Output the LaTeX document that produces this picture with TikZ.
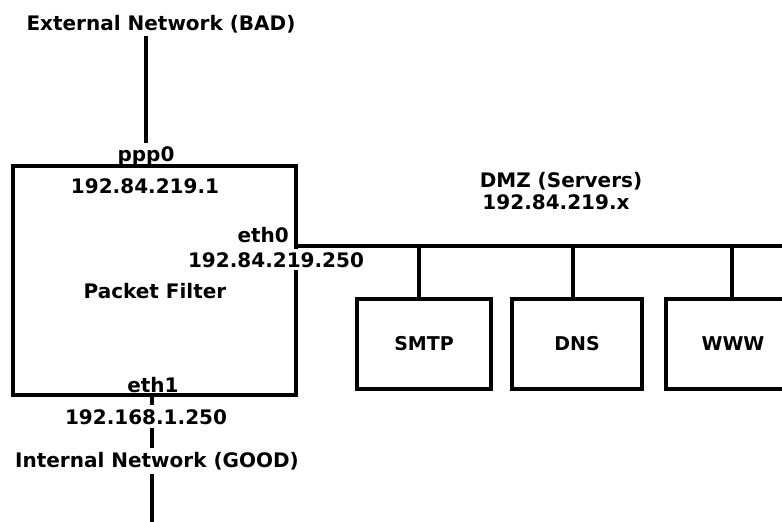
\documentclass[tikz,border=0pt]{standalone}
\usepackage{fontspec}
\setmainfont{DejaVu Sans}
\usetikzlibrary{positioning,calc}
\tikzset{
  netline/.style={draw=black, line width=3.2pt},
  filterbox/.style={
    draw=black, line width=3.2pt, minimum width=283pt, minimum height=229pt,
    inner sep=0pt
  },
  serverbox/.style={
    draw=black, line width=3.2pt, minimum width=134pt, minimum height=90pt,
    inner sep=0pt, font=\bfseries\fontsize{19}{22}\selectfont
  },
  netlabel/.style={font=\bfseries\fontsize{20}{24}\selectfont, inner sep=3pt},
  addrlabel/.style={netlabel, fill=white, inner sep=4pt}
}

\begin{document}
\begin{tikzpicture}[x=1pt, y=-1pt]
\useasboundingbox (0,0) rectangle (782,522);
\clip (0,0) rectangle (782,522);

% packet filter
\node[filterbox] (pf) at (154.5,280.5) {};
\node[netlabel, anchor=base] (ext) at (161,30) {External Network (BAD)};
\node[netlabel, anchor=base] (ppp) at (146,161) {ppp0};
\draw[netline] (ppp.north) -- (ppp.north |- ext.south);
\node[netlabel, anchor=base] (pfaddr) at (145,193) {192.84.219.1};
\node[netlabel, anchor=base] (pfname) at (155,298) {Packet Filter};
\node[netlabel, anchor=base east] (ethzero) at (292,242) {eth0};
\node[netlabel, anchor=base] (ethone) at (153,392) {eth1};

% internal side
\coordinate (netbottom) at (152,530);
\draw[netline] (netbottom |- pf.south) -- (netbottom);
\node[addrlabel, anchor=base] (ethoneaddr) at (146,424) {192.168.1.250};
\node[addrlabel, anchor=base] (internal) at (157,467) {Internal Network (GOOD)};

% dmz bus
\coordinate (busend) at (790,246);
\draw[netline] (busend -| pf.east) -- (busend);
\node[addrlabel, inner ysep=3pt, anchor=base] (ethzeroaddr) at (276,267) {192.84.219.250};
\node[netlabel, anchor=base] (dmz) at (561,187) {DMZ (Servers)};
\node[netlabel, anchor=base] (dmzaddr) at (556,209) {192.84.219.x};

% servers
\node[serverbox] (smtp) at (424,344) {SMTP};
\node[serverbox, minimum width=130pt] (dns) at (577,344) {DNS};
\node[serverbox] (www) at (733,344) {WWW};
\draw[netline] ([xshift=-5pt]smtp.north) -- ([xshift=-5pt]smtp.north |- busend);
\draw[netline] ([xshift=-4pt]dns.north) -- ([xshift=-4pt]dns.north |- busend);
\draw[netline] ([xshift=-1pt]www.north) -- ([xshift=-1pt]www.north |- busend);

\end{tikzpicture}
\end{document}
